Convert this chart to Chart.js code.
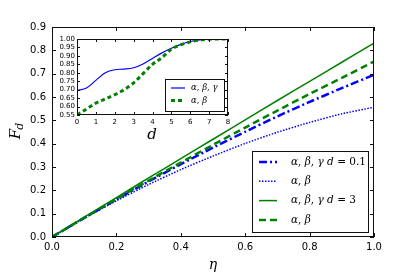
<!DOCTYPE html>
<html>
<head>
<meta charset="utf-8">
<script src="https://cdn.jsdelivr.net/npm/chart.js@4/dist/chart.umd.min.js"></script>
<style>
  html, body { margin: 0; padding: 0; background: #fff; }
  #wrap { position: relative; width: 415px; height: 276px; }
  #wrap canvas { position: absolute; left: 0; top: 0; }
</style>
</head>
<body>
<div id="wrap">
  <canvas id="main" width="415" height="276"></canvas>
  <canvas id="inset" width="415" height="276"></canvas>
</div>
<script>
// ---- data ----
const eta = [0, 0.1, 0.2, 0.3, 0.4, 0.5, 0.6, 0.7, 0.8, 0.9, 1.0];
const fdABGsmall = [0, 0.082, 0.161, 0.238, 0.312, 0.383, 0.451, 0.517, 0.579, 0.638, 0.695];
const fdABsmall  = [0, 0.080, 0.155, 0.225, 0.289, 0.347, 0.401, 0.449, 0.491, 0.528, 0.556];
const fdABGbig   = [0, 0.085, 0.169, 0.253, 0.336, 0.419, 0.502, 0.585, 0.667, 0.749, 0.831];
const fdABbig    = [0, 0.082, 0.163, 0.242, 0.319, 0.395, 0.469, 0.542, 0.613, 0.682, 0.752];

const dVals    = [0, 0.5, 1, 1.5, 2, 2.5, 3, 3.5, 4, 4.5, 5, 5.5, 6, 6.5, 7, 7.5, 8];
const insetABG = [0.695, 0.71, 0.755, 0.80, 0.818, 0.822, 0.83, 0.852, 0.885, 0.918, 0.945, 0.968, 0.985, 0.995, 0.999, 1.0, 1.0];
const insetAB  = [0.55, 0.585, 0.62, 0.645, 0.67, 0.70, 0.74, 0.795, 0.85, 0.89, 0.94, 0.965, 0.983, 0.994, 0.999, 1.0, 1.0];

const BLUE = '#0000ff';
const GREEN = '#008000';
const SERIF = '"DejaVu Serif", serif';
const SANS = '"DejaVu Sans", sans-serif';

const pts = (xs, ys) => xs.map((x, i) => ({ x, y: ys[i] }));

// frame + inward ticks on all four sides (matplotlib classic look)
const frameTicks = {
  id: 'frameTicks',
  beforeDatasetsDraw(chart, args, opts) {
    if (!opts.fill) return;
    const { ctx, chartArea: a } = chart;
    ctx.save();
    ctx.fillStyle = '#fff';
    ctx.fillRect(a.left, a.top, a.right - a.left, a.bottom - a.top);
    ctx.restore();
  },
  afterDatasetsDraw(chart, args, opts) {
    const { ctx, chartArea: a, scales: { x, y } } = chart;
    const L = opts.len || 4;
    ctx.save();
    ctx.strokeStyle = '#111';
    ctx.lineWidth = 1;
    ctx.beginPath();
    x.ticks.forEach(t => {
      const px = Math.round(x.getPixelForValue(t.value)) + 0.5;
      ctx.moveTo(px, a.bottom); ctx.lineTo(px, a.bottom - L);
      ctx.moveTo(px, a.top); ctx.lineTo(px, a.top + L);
    });
    y.ticks.forEach(t => {
      const py = Math.round(y.getPixelForValue(t.value)) + 0.5;
      ctx.moveTo(a.left, py); ctx.lineTo(a.left + L, py);
      ctx.moveTo(a.right, py); ctx.lineTo(a.right - L, py);
    });
    ctx.stroke();
    ctx.strokeRect(Math.round(a.left) + 0.5, Math.round(a.top) + 0.5,
      Math.round(a.right - a.left) - 1, Math.round(a.bottom - a.top) - 1);
    ctx.restore();
  }
};

// draws a run of text pieces with their own font styles
function drawPieces(ctx, pieces, x, y, size) {
  let cx = x;
  pieces.forEach(([txt, style]) => {
    ctx.font = (style === 'i' ? 'italic ' : '') + size + 'px ' + SERIF;
    ctx.fillText(txt, cx, y);
    cx += ctx.measureText(txt).width;
  });
}

// in-axes legend + axis titles
const boxLegend = {
  id: 'boxLegend',
  afterDraw(chart, args, opts) {
    const { ctx } = chart;
    ctx.save();
    const b = opts.box;
    ctx.fillStyle = '#fff';
    ctx.fillRect(b.x, b.y, b.w, b.h);
    ctx.strokeStyle = '#111';
    ctx.lineWidth = 1;
    ctx.strokeRect(b.x + 0.5, b.y + 0.5, b.w, b.h);
    opts.items.forEach((it, i) => {
      const ds = chart.data.datasets[it.ds];
      const yy = b.y + opts.firstRow + i * opts.rowGap;
      ctx.strokeStyle = ds.borderColor;
      ctx.lineWidth = ds.borderWidth;
      ctx.setLineDash(ds.borderDash || []);
      ctx.beginPath();
      ctx.moveTo(b.x + opts.lineX0, yy);
      ctx.lineTo(b.x + opts.lineX1, yy);
      ctx.stroke();
      ctx.setLineDash([]);
      ctx.fillStyle = '#000';
      ctx.textBaseline = 'middle';
      drawPieces(ctx, it.label, b.x + opts.textX, yy, opts.size);
    });
    (opts.titles || []).forEach(t => {
      ctx.save();
      ctx.translate(t.x, t.y);
      if (t.rot) ctx.rotate(t.rot);
      ctx.fillStyle = '#000';
      ctx.textBaseline = 'middle';
      ctx.font = 'italic ' + t.size + 'px ' + SERIF;
      ctx.textAlign = 'center';
      ctx.fillText(t.text, 0, 0);
      if (t.sub) {
        const w = ctx.measureText(t.text).width;
        ctx.font = 'italic ' + Math.round(t.size * 0.7) + 'px ' + SERIF;
        ctx.textAlign = 'left';
        ctx.fillText(t.sub, w / 2 - 1, t.size * 0.3);
      }
      ctx.restore();
    });
    ctx.restore();
  }
};

// ---- main chart ----
new Chart(document.getElementById('main'), {
  type: 'line',
  data: {
    datasets: [
      { data: pts(eta, fdABGsmall), borderColor: BLUE, borderWidth: 2.5, borderDash: [8, 3, 2, 3], order: 4 },
      { data: pts(eta, fdABsmall),  borderColor: BLUE, borderWidth: 1.5, borderDash: [1.5, 1.5], order: 3 },
      { data: pts(eta, fdABGbig),   borderColor: GREEN, borderWidth: 1.5, order: 2 },
      { data: pts(eta, fdABbig),    borderColor: GREEN, borderWidth: 2.5, borderDash: [7, 4], order: 1 },
    ],
  },
  options: {
    responsive: false,
    animation: false,
    events: [],
    layout: { padding: { left: 0, top: 27, right: 41, bottom: 0 } },
    elements: { point: { radius: 0 }, line: { tension: 0.2, fill: false } },
    plugins: {
      legend: { display: false },
      tooltip: { enabled: false },
      frameTicks: { len: 4 },
      boxLegend: {
        box: { x: 252, y: 151, w: 116, h: 81 },
        firstRow: 11, rowGap: 19.3, lineX0: 7, lineX1: 25, textX: 39, size: 10.5,
        items: [
          { ds: 0, label: [['α', 'i'], [', ', 'n'], ['β', 'i'], [', ', 'n'], ['γ', 'i'], [' d', 'i'], [' = 0.1', 'n']] },
          { ds: 1, label: [['α', 'i'], [', ', 'n'], ['β', 'i']] },
          { ds: 2, label: [['α', 'i'], [', ', 'n'], ['β', 'i'], [', ', 'n'], ['γ', 'i'], [' d', 'i'], [' = 3', 'n']] },
          { ds: 3, label: [['α', 'i'], [', ', 'n'], ['β', 'i']] },
        ],
        titles: [
          { text: 'η', x: 213, y: 265, size: 14 },
          { text: 'F', sub: 'd', x: 16, y: 134, size: 15, rot: -Math.PI / 2 },
        ],
      },
    },
    scales: {
      x: {
        type: 'linear', min: 0, max: 1,
        grid: { display: false, drawTicks: false },
        border: { display: false },
        ticks: { stepSize: 0.2, autoSkip: false, maxRotation: 0, padding: 4, color: '#000',
          font: { family: SANS, size: 10 }, callback: v => v.toFixed(1) },
        afterFit: s => { s.height = 39; },
      },
      y: {
        type: 'linear', min: 0, max: 0.9,
        grid: { display: false, drawTicks: false },
        border: { display: false },
        ticks: { stepSize: 0.1, autoSkip: false, padding: 6, color: '#000',
          font: { family: SANS, size: 10 }, callback: v => v.toFixed(1) },
        afterFit: s => { s.width = 52; },
      },
    },
  },
  plugins: [frameTicks, boxLegend],
});

// ---- inset chart ----
new Chart(document.getElementById('inset'), {
  type: 'line',
  data: {
    datasets: [
      { data: pts(dVals, insetABG), borderColor: BLUE, borderWidth: 1.2, order: 2 },
      { data: pts(dVals, insetAB),  borderColor: GREEN, borderWidth: 3, borderDash: [4, 3], order: 1 },
    ],
  },
  options: {
    responsive: false,
    animation: false,
    events: [],
    layout: { padding: { left: 0, top: 39, right: 187, bottom: 0 } },
    elements: { point: { radius: 0 }, line: { cubicInterpolationMode: 'monotone', fill: false } },
    plugins: {
      legend: { display: false },
      tooltip: { enabled: false },
      frameTicks: { len: 3, fill: true },
      boxLegend: {
        box: { x: 165, y: 79, w: 59, h: 32 },
        firstRow: 9, rowGap: 12.5, lineX0: 6, lineX1: 20, textX: 26, size: 8.5,
        items: [
          { ds: 0, label: [['α', 'i'], [', ', 'n'], ['β', 'i'], [', ', 'n'], ['γ', 'i']] },
          { ds: 1, label: [['α', 'i'], [', ', 'n'], ['β', 'i']] },
        ],
        titles: [
          { text: 'd', x: 152, y: 135, size: 15 },
        ],
      },
    },
    scales: {
      x: {
        type: 'linear', min: 0, max: 8,
        grid: { display: false, drawTicks: false },
        border: { display: false },
        ticks: { stepSize: 1, autoSkip: false, maxRotation: 0, padding: 3, color: '#000',
          font: { family: SANS, size: 7 } },
        afterFit: s => { s.height = 161; },
      },
      y: {
        type: 'linear', min: 0.55, max: 1.0,
        grid: { display: false, drawTicks: false },
        border: { display: false },
        ticks: { stepSize: 0.05, autoSkip: false, padding: 2, color: '#000',
          font: { family: SANS, size: 7 }, callback: v => v.toFixed(2) },
        afterFit: s => { s.width = 77; },
      },
    },
  },
  plugins: [frameTicks, boxLegend],
});
</script>
</body>
</html>
